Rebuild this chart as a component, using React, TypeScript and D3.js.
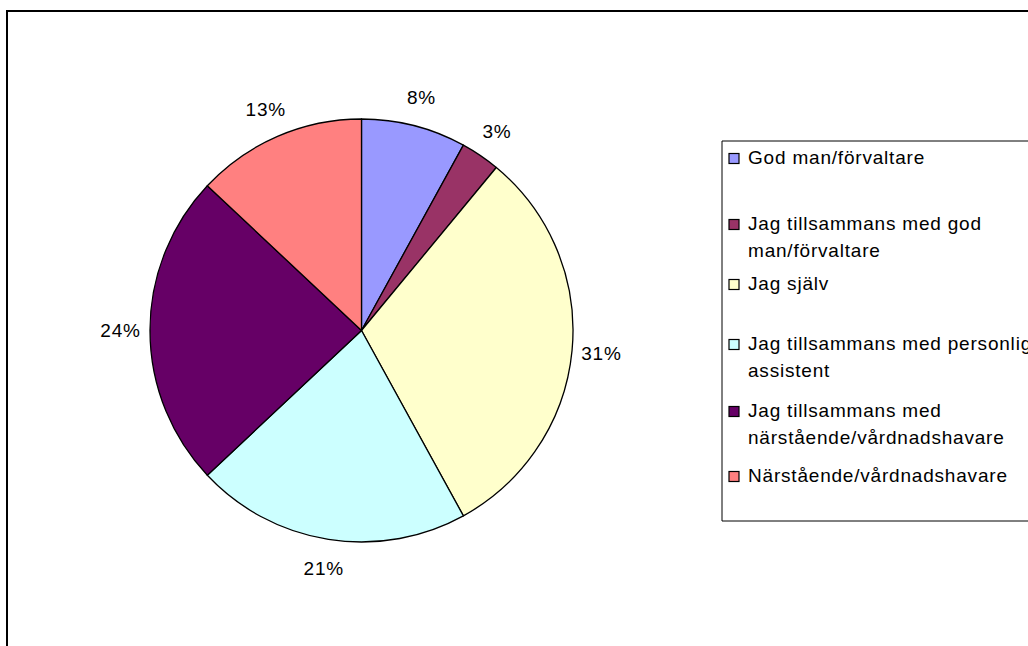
import React from "react";
import * as d3 from "d3";

const categories = [
  "God man/förvaltare",
  "Jag tillsammans med god\nman/förvaltare",
  "Jag själv",
  "Jag tillsammans med personlig\nassistent",
  "Jag tillsammans med\nnärstående/vårdnadshavare",
  "Närstående/vårdnadshavare",
];
const values = [8, 3, 31, 21, 24, 13];
const colors = ["#9999FF", "#993366", "#FFFFCC", "#CCFFFF", "#660066", "#FF8080"];

const W = 1028;
const H = 646;
const cx = 361.5;
const cy = 330.5;
const R = 211.5;
const labelR = 241;
const legendBaselines = [164, 230, 290, 350, 417, 482];
const FONT = "'Liberation Sans', Arial, sans-serif";

export default function App() {
  const total = d3.sum(values);
  const pie = d3
    .pie<number>()
    .sort(null)
    .value((d) => d)
    .startAngle(0)
    .endAngle(2 * Math.PI);
  const arcs = pie(values);
  const arc = d3.arc<d3.PieArcDatum<number>>().innerRadius(0).outerRadius(R);
  const labelArc = d3
    .arc<d3.PieArcDatum<number>>()
    .innerRadius(labelR)
    .outerRadius(labelR);
  const fmt = (v: number) => `${Math.round((v / total) * 100)}%`;

  return (
    <svg
      width={W}
      height={H}
      style={{ position: "absolute", left: 0, top: 0, background: "#fff" }}
    >
      <rect x={0} y={0} width={W} height={H} fill="#fff" />
      <path d={`M ${W + 5} 11 H 7 V ${H + 5}`} fill="none" stroke="#000" strokeWidth={2} />
      <g transform={`translate(${cx},${cy})`}>
        {arcs.map((a, i) => (
          <path key={i} d={arc(a) || ""} fill={colors[i]} stroke="#000" strokeWidth={1.3} strokeLinejoin="round" />
        ))}
        {arcs.map((a, i) => {
          const [x, y] = labelArc.centroid(a);
          return (
            <text
              key={"l" + i}
              x={x}
              y={y}
              dy="0.36em"
              textAnchor="middle"
              fontFamily={FONT}
              fontSize={19}
              letterSpacing={0.8}
              fill="#000"
            >
              {fmt(a.data)}
            </text>
          );
        })}
      </g>
      <path d={`M ${W + 5} 141 H 722 V 521 H ${W + 5}`} fill="#fff" stroke="#000" strokeWidth={1} />
      {categories.map((c, i) => {
        const b = legendBaselines[i];
        const lines = c.split("\n");
        return (
          <g key={"lg" + i}>
            <rect x={729} y={b - 10.5} width={10} height={10} fill={colors[i]} stroke="#000" strokeWidth={1.2} />
            <text fontFamily={FONT} fontSize={19} letterSpacing={0.8} fill="#000">
              {lines.map((ln, j) => (
                <tspan key={j} x={748} y={b + j * 27}>
                  {ln}
                </tspan>
              ))}
            </text>
          </g>
        );
      })}
    </svg>
  );
}
